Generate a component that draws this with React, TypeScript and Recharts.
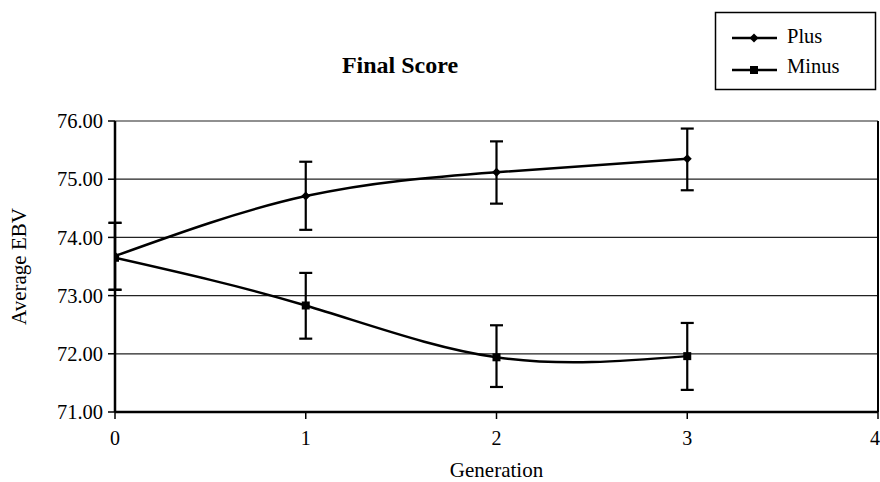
import React from 'react';
import { LineChart, Line, XAxis, YAxis, CartesianGrid, ErrorBar, ReferenceLine, Label } from 'recharts';

const generations = [0, 1, 2, 3];
const plusMean = [73.68, 74.71, 75.12, 75.35];
const plusLow = [73.1, 74.13, 74.58, 74.81];
const plusHigh = [74.25, 75.3, 75.65, 75.87];
const minusMean = [73.65, 72.83, 71.94, 71.96];
const minusLow = [73.1, 72.26, 71.43, 71.38];
const minusHigh = [74.25, 73.39, 72.49, 72.53];
const xTicks = [0, 1, 2, 3, 4];
const yTicks = [71, 72, 73, 74, 75, 76];

const data = generations.map((g, i) => ({
  gen: g,
  plus: plusMean[i],
  plusErr: [plusMean[i] - plusLow[i], plusHigh[i] - plusMean[i]],
  minus: minusMean[i],
  minusErr: [minusMean[i] - minusLow[i], minusHigh[i] - minusMean[i]],
}));

const FONT = '"Liberation Serif", "DejaVu Serif", serif';

const Diamond = (props: any) => {
  const { cx, cy } = props;
  if (cx == null || cy == null) return null;
  return <polygon points={`${cx},${cy - 4.5} ${cx + 4.5},${cy} ${cx},${cy + 4.5} ${cx - 4.5},${cy}`} fill="#000" />;
};

const Square = (props: any) => {
  const { cx, cy } = props;
  if (cx == null || cy == null) return null;
  return <rect x={cx - 4} y={cy - 4} width={8} height={8} fill="#000" />;
};

export default function App() {
  return (
    <div style={{ position: 'absolute', left: 0, top: 0, width: 880, height: 482, background: '#fff' }}>
      <LineChart width={880} height={482} data={data} margin={{ top: 121, right: 2, bottom: 0, left: 0 }}>
        <CartesianGrid vertical={false} stroke="#222" strokeWidth={1.2} />
        <ReferenceLine x={4} stroke="#000" strokeWidth={2} />
        <XAxis
          dataKey="gen"
          type="number"
          domain={[0, 4]}
          ticks={xTicks}
          height={70}
          tickSize={7}
          tickMargin={12}
          axisLine={{ stroke: '#000', strokeWidth: 2.5 }}
          tickLine={{ stroke: '#000', strokeWidth: 1.5 }}
          tick={{ fill: '#000', fontSize: 20, fontFamily: FONT }}
          allowDataOverflow
        >
          <Label value="Generation" position="insideBottom" offset={5} style={{ fill: '#000', fontSize: 21, fontFamily: FONT }} />
        </XAxis>
        <YAxis
          type="number"
          domain={[71, 76]}
          ticks={yTicks}
          width={115}
          tickSize={7}
          tickMargin={5}
          tickFormatter={(v: number) => v.toFixed(2)}
          axisLine={{ stroke: '#000', strokeWidth: 2.5 }}
          tickLine={{ stroke: '#000', strokeWidth: 1.5 }}
          tick={{ fill: '#000', fontSize: 20.5, fontFamily: FONT }}
          allowDataOverflow
        >
          <Label
            value="Average EBV"
            angle={-90}
            position="insideLeft"
            offset={19}
            style={{ fill: '#000', fontSize: 21, fontFamily: FONT, textAnchor: 'middle' }}
          />
        </YAxis>
        <Line
          dataKey="plus"
          type="natural"
          stroke="#000"
          strokeWidth={2.5}
          dot={<Diamond />}
          activeDot={false}
          isAnimationActive={false}
        >
          <ErrorBar dataKey="plusErr" direction="y" width={6.5} stroke="#000" strokeWidth={2.2} />
        </Line>
        <Line
          dataKey="minus"
          type="natural"
          stroke="#000"
          strokeWidth={2.5}
          dot={<Square />}
          activeDot={false}
          isAnimationActive={false}
        >
          <ErrorBar dataKey="minusErr" direction="y" width={6.5} stroke="#000" strokeWidth={2.2} />
        </Line>
      </LineChart>
      <svg width={880} height={482} style={{ position: 'absolute', left: 0, top: 0, pointerEvents: 'none' }}>
        <text x={400} y={73} textAnchor="middle" fontFamily={FONT} fontWeight="bold" fontSize={24} fill="#000">
          Final Score
        </text>
        <rect x={715.5} y={12.5} width={160} height={77} fill="#fff" stroke="#000" strokeWidth={1.5} />
        <line x1={732} y1={38} x2={777} y2={38} stroke="#000" strokeWidth={2.5} />
        <polygon points="754,33.5 758.5,38 754,42.5 749.5,38" fill="#000" />
        <text x={787} y={43} fontFamily={FONT} fontSize={20.5} fill="#000">
          Plus
        </text>
        <line x1={732} y1={70} x2={777} y2={70} stroke="#000" strokeWidth={2.5} />
        <rect x={750} y={66} width={8} height={8} fill="#000" />
        <text x={787} y={73} fontFamily={FONT} fontSize={20.5} fill="#000">
          Minus
        </text>
      </svg>
    </div>
  );
}
